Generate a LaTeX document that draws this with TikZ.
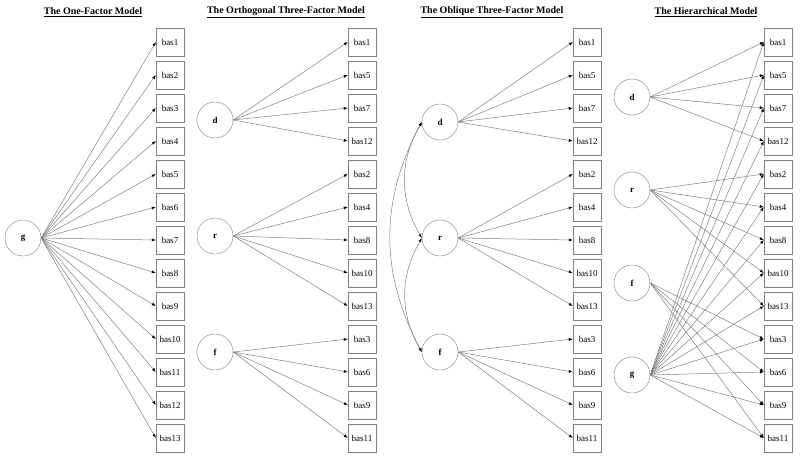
\documentclass[tikz,border=0pt]{standalone}
\usepackage{fontspec}
\setmainfont{Liberation Serif}
\usetikzlibrary{arrows.meta}

\tikzset{
  obs/.style={draw=gray, minimum width=28pt, minimum height=28pt, inner sep=0pt, font=\fontsize{9}{10}\selectfont},
  lat/.style={circle, draw=gray, minimum size=36pt, inner sep=0pt, font=\fontsize{9}{10}\selectfont\bfseries},
  load/.style={draw=gray, line width=0.5pt, -{Latex[length=4pt,width=3pt,black]}},
  cov/.style={draw=gray, line width=0.5pt, {Latex[length=4pt,width=3pt,black]}-{Latex[length=4pt,width=3pt,black]}},
  title/.style={font=\fontsize{10}{12}\selectfont\bfseries}
}

\begin{document}
\begin{tikzpicture}[x=1pt,y=-1pt]

    \useasboundingbox (0,0) rectangle (800,460);

    %%%%%%%%%%%%%%%%%%% Titles %%%%%%%%%%%%%%%%%%%%%%%%%%%%%%%
    \node[title] (t1) at (93,12) {\underline{The One-Factor Model}};
    \node[title] (t2) at (286,12) {\underline{The Orthogonal Three-Factor Model}};
    \node[title] (t3) at (492,12) {\underline{The Oblique Three-Factor Model}};
    \node[title] (t4) at (706,12) {\underline{The Hierarchical Model}};

    %%%%%%%%%%%%%%%%%%% One-factor %%%%%%%%%%%%%%%%%%%%%%%%%%%
    \node[lat] (Ag) at (23,238) {g};
    \foreach \i in {1,...,13} {
        \node[obs] (A\i) at (170,{42+33*(\i-1)}) {bas\i};
        \draw[load] (Ag.east) -- (A\i.west);
    }

    %%%%%%%%%%%%%%%%%%% Orthogonal %%%%%%%%%%%%%%%%%%%%%%%%%%%
    \foreach \lab [count=\i] in {1,5,7,12,2,4,8,10,13,3,6,9,11}
        \node[obs] (B\lab) at (362,{42+33*(\i-1)}) {bas\lab};
    \node[lat] (Bd) at (215,120) {d};
    \node[lat] (Br) at (215,236) {r};
    \node[lat] (Bf) at (215,352) {f};
    \foreach \lab in {1,5,7,12} \draw[load] (Bd.east) -- (B\lab.west);
    \foreach \lab in {2,4,8,10,13} \draw[load] (Br.east) -- (B\lab.west);
    \foreach \lab in {3,6,9,11} \draw[load] (Bf.east) -- (B\lab.west);

    %%%%%%%%%%%%%%%%%%% Oblique %%%%%%%%%%%%%%%%%%%%%%%%%%%%%%
    \foreach \lab [count=\i] in {1,5,7,12,2,4,8,10,13,3,6,9,11}
        \node[obs] (C\lab) at (587,{42+33*(\i-1)}) {bas\lab};
    \node[lat] (Cd) at (440,122) {d};
    \node[lat] (Cr) at (440,238) {r};
    \node[lat] (Cf) at (440,352) {f};
    \foreach \lab in {1,5,7,12} \draw[load] (Cd.east) -- (C\lab.west);
    \foreach \lab in {2,4,8,10,13} \draw[load] (Cr.east) -- (C\lab.west);
    \foreach \lab in {3,6,9,11} \draw[load] (Cf.east) -- (C\lab.west);
    % correlations
    \draw[cov] (Cd.west) to[bend right=30] (Cr.west);
    \draw[cov] (Cr.west) to[bend right=30] (Cf.west);
    \draw[cov] (Cd.west) to[bend right=28] (Cf.west);

    %%%%%%%%%%%%%%%%%%% Hierarchical %%%%%%%%%%%%%%%%%%%%%%%%%
    \foreach \lab [count=\i] in {1,5,7,12,2,4,8,10,13,3,6,9,11}
        \node[obs] (D\lab) at (778,{42+33*(\i-1)}) {bas\lab};
    \node[lat] (Dd) at (632,97) {d};
    \node[lat] (Dr) at (632,190) {r};
    \node[lat] (Df) at (632,283) {f};
    \node[lat] (Dg) at (632,375) {g};
    \foreach \lab in {1,5,7,12} \draw[load] (Dd.east) -- (D\lab.west);
    \foreach \lab in {2,4,8,10,13} \draw[load] (Dr.east) -- (D\lab.west);
    \foreach \lab in {3,6,9,11} \draw[load] (Df.east) -- (D\lab.west);
    \foreach \lab in {1,5,7,12,2,4,8,10,13,3,6,9,11} \draw[load] (Dg.east) -- (D\lab.west);

\end{tikzpicture}
\end{document}
